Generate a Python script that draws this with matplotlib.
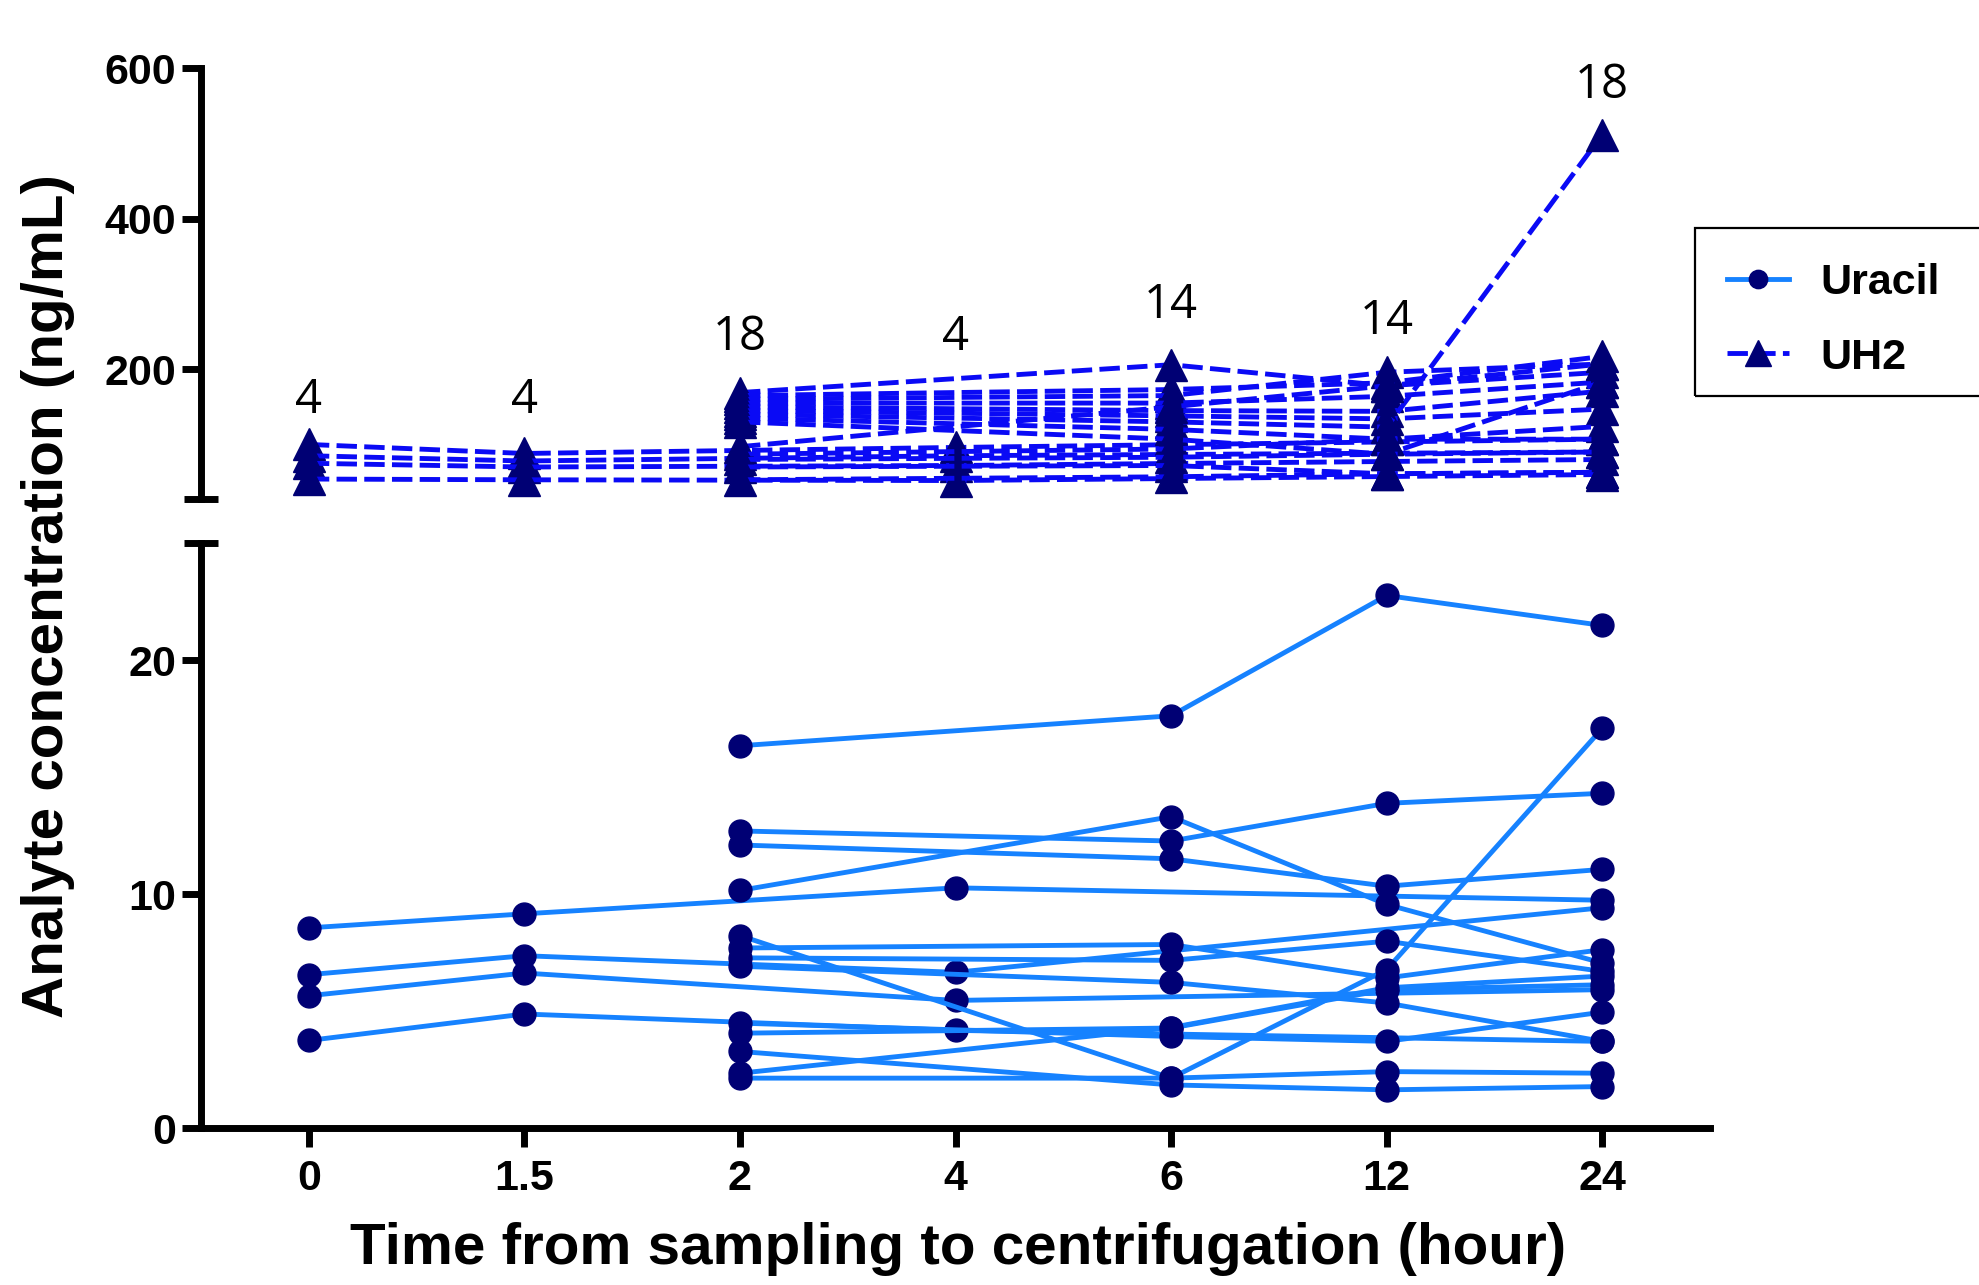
import numpy as np
import matplotlib
matplotlib.use("Agg")
import matplotlib.pyplot as plt
from matplotlib.patches import Rectangle

plt.rcParams['font.family'] = ['Liberation Sans', 'DejaVu Sans']

# time points (categorical x axis)
x_labels = ["0", "1.5", "2", "4", "6", "12", "24"]
counts = ["4", "4", "18", "4", "14", "14", "18"]

# subjects sampled at 0 / 1.5 / 4 / 24 h
group_a_times = ["0", "1.5", "4", "24"]
# subjects sampled at 2 / 6 / 12 / 24 h
group_b_times = ["2", "6", "12", "24"]

uracil_a = [
    [8.56, 9.16, 10.27, 9.74],
    [6.56, 7.37, 6.66, 9.42],
    [5.66, 6.63, 5.46, 5.92],
    [3.75, 4.88, 4.18, 3.71],
]
uracil_b = [
    [16.34, 17.62, 22.76, 21.48],
    [12.70, 12.27, 13.88, 14.31],
    [12.10, 11.51, 10.34, 11.06],
    [10.16, 13.31, 9.56, 7.06],
    [8.23, 2.14, 6.78, 17.08],
    [7.70, 7.85, 6.42, 7.63],
    [7.28, 7.17, 7.99, 6.70],
    [6.92, 6.23, 5.35, 3.71],
    [4.49, 3.92, 3.71, 4.96],
    [4.06, 4.28, 5.92, 6.13],
    [3.28, 1.85, 1.64, 1.78],
    [2.35, 4.30, 6.00, 6.50],
    [2.14, 2.14, 2.42, 2.35],
]

uh2_a = [
    [100, 88, 96, 107],
    [85, 78, 85, 90],
    [75, 70, 72, 80],
    [54, 53, 52, 60],
]
uh2_b = [
    [169, 206, 178, 196],
    [165, 173, 182, 217],
    [160, 165, 196, 207],
    [155, 155, 164, 183],
    [150, 145, 144, 171],
    [145, 138, 134, 147],
    [140, 130, 123, 512],
    [135, 120, 107, 124],
    [130, 107, 87, 183],
    [97, 150, 178, 207],
    [87, 94, 107, 107],
    [80, 83, 87, 90],
    [70, 72, 61, 63],
    [53, 57, 61, 63],
]

# height (ng/mL) where the n labels sit
label_y = [159, 159, 242, 242, 285, 264, 577]

uracil_line = "#1682ff"
uh2_line = "#0a0af5"
marker_col = "#000074"

fig = plt.figure(figsize=(19.79, 12.85), dpi=100)
left, width = 0.1016, 0.7625
ax_top = fig.add_axes([left, 0.6114, width, 0.3354])
ax_bot = fig.add_axes([left, 0.1220, width, 0.4554])


def pos(times):
    return [x_labels.index(t) for t in times]


# bottom panel: uracil
first = True
for times, rows in [(group_a_times, uracil_a), (group_b_times, uracil_b)]:
    for vals in rows:
        ax_bot.plot(pos(times), vals, color=uracil_line, lw=3.5, marker='o',
                    ms=16.5, mfc=marker_col, mec=marker_col,
                    label="Uracil" if first else None, zorder=3)
        first = False

# top panel: UH2
first = True
for times, rows in [(group_a_times, uh2_a), (group_b_times, uh2_b)]:
    for vals in rows:
        ax_top.plot(pos(times), vals, color=uh2_line, lw=3.5,
                    linestyle=(0, (4.2, 1.5)), marker='^', ms=23,
                    mfc=marker_col, mec=marker_col,
                    label="UH2" if first else None, zorder=3)
        first = False

# n labels above each time point
for i, (c, y) in enumerate(zip(counts, label_y)):
    ax_top.text(i, y, c, ha='center', va='center', fontsize=34,
                family=['Open Sans', 'DejaVu Sans'], color='black')

for ax in (ax_top, ax_bot):
    ax.set_xlim(-0.5, 6.5)
    for s in ("top", "right"):
        ax.spines[s].set_visible(False)
    ax.spines["left"].set_linewidth(5)
    ax.tick_params(axis='y', length=14, width=5, labelsize=31, pad=4)

ax_top.set_ylim(27, 600)
ax_top.set_yticks([200, 400, 600])
ax_top.spines["bottom"].set_visible(False)
ax_top.set_xticks([])

ax_bot.set_ylim(0, 25)
ax_bot.set_yticks([0, 10, 20])
ax_bot.spines["bottom"].set_linewidth(5)
ax_bot.set_xticks(range(len(x_labels)))
ax_bot.set_xticklabels(x_labels)
ax_bot.tick_params(axis='x', length=14, width=5, labelsize=31, pad=8)

for ax in (ax_top, ax_bot):
    for lab in ax.get_yticklabels() + ax.get_xticklabels():
        lab.set_fontweight('bold')

# caps at the axis break
ax_top.plot([0], [0], marker='_', ms=25, mew=5, color='black',
            transform=ax_top.transAxes, clip_on=False)
ax_bot.plot([0], [1], marker='_', ms=25, mew=5, color='black',
            transform=ax_bot.transAxes, clip_on=False)

fig.text(0.0243, 0.536, "Analyte concentration (ng/mL)", rotation=90,
         ha='center', va='center', fontsize=42, fontweight='bold')
fig.text(0.484, 0.028, "Time from sampling to centrifugation (hour)",
         ha='center', va='center', fontsize=42, fontweight='bold')

# legend
h1, l1 = ax_bot.get_legend_handles_labels()
h2, l2 = ax_top.get_legend_handles_labels()
fig.legend(h1 + h2, l1 + l2, loc='upper left',
           bbox_to_anchor=(0.862, 0.812), frameon=False,
           prop={'weight': 'bold', 'size': 31}, handlelength=1.42,
           handletextpad=0.74, labelspacing=0.8, borderpad=0,
           markerscale=0.8)
fig.patches.append(Rectangle((1695 / 1979, 1 - 396 / 1285), 0.2,
                             168 / 1285, transform=fig.transFigure,
                             fill=False, edgecolor='black', lw=1.6))

fig.savefig("out.png", dpi=100)
